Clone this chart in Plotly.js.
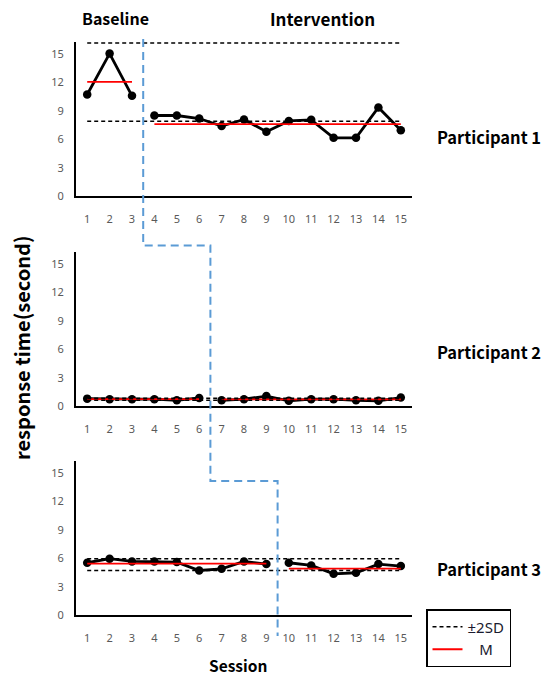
<!DOCTYPE html>
<html>
<head>
<meta charset="utf-8">
<script src="https://cdn.plot.ly/plotly-3.0.1.min.js"></script>
<style>html,body{margin:0;padding:0;background:#fff;}#chart{width:541px;height:679px;}</style>
</head>
<body>
<div id="chart"></div>
<script>
// ---- data ----
var sessions = [1, 2, 3, 4, 5, 6, 7, 8, 9, 10, 11, 12, 13, 14, 15];
var participants = ["Participant 1", "Participant 2", "Participant 3"];
var p1 = [10.74, 15.07, 10.6, 8.52, 8.52, 8.2, 7.4, 8.1, 6.8, 7.95, 8.06, 6.16, 6.16, 9.37, 6.97];
var p2 = [0.78, 0.72, 0.72, 0.72, 0.6, 0.85, 0.6, 0.72, 1.05, 0.55, 0.72, 0.72, 0.6, 0.55, 0.89];
var p3 = [5.53, 5.96, 5.67, 5.67, 5.6, 4.71, 4.89, 5.67, 5.39, 5.53, 5.25, 4.36, 4.47, 5.39, 5.18];
var baselineLength = [3, 6, 9];
var meanBase = [12.07, 0.72, 5.43];
var meanInt = [7.6, 0.7, 4.9];
var sdUpper = [16.2, 0.82, 5.96];
var sdLower = [7.9, 0.62, 4.71];
var yTicks = [0, 3, 6, 9, 12, 15];

var series = [p1, p2, p3];
var traces = [];
var tickFont = {family: "Noto Sans, Open Sans, sans-serif", size: 11, color: "#595959"};

series.forEach(function (vals, i) {
  var ax = i === 0 ? "" : String(i + 1);
  var xa = "x" + ax, ya = "y" + ax;
  var b = baselineLength[i];
  // data lines (one per phase)
  traces.push({x: sessions.slice(0, b), y: vals.slice(0, b), xaxis: xa, yaxis: ya, mode: "lines+markers",
    line: {color: "#000", width: 2.8}, marker: {color: "#000", size: 8.5}, showlegend: false, hoverinfo: "x+y"});
  traces.push({x: sessions.slice(b), y: vals.slice(b), xaxis: xa, yaxis: ya, mode: "lines+markers",
    line: {color: "#000", width: 2.8}, marker: {color: "#000", size: 8.5}, showlegend: false, hoverinfo: "x+y"});
  // mean lines
  traces.push({x: [sessions[0], sessions[b - 1]], y: [meanBase[i], meanBase[i]], xaxis: xa, yaxis: ya, mode: "lines",
    line: {color: "#FF0000", width: 1.8}, name: "\u00a0\u00a0\u00a0M", legendrank: 2, showlegend: i === 0});
  traces.push({x: [sessions[b], sessions[sessions.length - 1]], y: [meanInt[i], meanInt[i]], xaxis: xa, yaxis: ya, mode: "lines",
    line: {color: "#FF0000", width: 1.8}, showlegend: false});
  // ±2SD lines
  traces.push({x: [sessions[0], sessions[sessions.length - 1]], y: [sdUpper[i], sdUpper[i]], xaxis: xa, yaxis: ya, mode: "lines",
    line: {color: "#000", width: 1.5, dash: "4px,3px"}, name: "\u00b12SD", legendrank: 1, showlegend: i === 0});
  traces.push({x: [sessions[0], sessions[sessions.length - 1]], y: [sdLower[i], sdLower[i]], xaxis: xa, yaxis: ya, mode: "lines",
    line: {color: "#000", width: 1.5, dash: "4px,3px"}, showlegend: false});
});

var W = 541, H = 679;
function py(px) { return 1 - px / H; }
var xDomain = [76 / W, 412 / W];
var panelPx = [[42, 196], [252, 406], [461, 615]];

function xAxis(anchor) {
  return {domain: xDomain, range: [0.5, 15.5], anchor: anchor, tickvals: sessions, ticktext: sessions.map(String),
    showgrid: false, zeroline: false, showline: true, linecolor: "#000", linewidth: 2,
    ticks: "outside", ticklen: 12, tickcolor: "rgba(0,0,0,0)", tickfont: tickFont, fixedrange: true};
}
function yAxis(anchor, k) {
  return {domain: [py(panelPx[k][1]), py(panelPx[k][0])], range: [0, 16.3], anchor: anchor, tickvals: yTicks,
    showgrid: false, zeroline: false, showline: true, linecolor: "#000", linewidth: 2,
    ticks: "outside", ticklen: 8, tickcolor: "rgba(0,0,0,0)", tickfont: tickFont, fixedrange: true};
}

// phase change line (blue dashed step)
var ph = baselineLength.map(function (b) { return b + 0.5; });
var stepY = [py(39), py(245.5), py(481), py(636)];
var path = "M " + ph[0] + "," + stepY[0] + " L " + ph[0] + "," + stepY[1] +
  " L " + ph[1] + "," + stepY[1] + " L " + ph[1] + "," + stepY[2] +
  " L " + ph[2] + "," + stepY[2] + " L " + ph[2] + "," + stepY[3];

var boldFont = {family: "Noto Sans CJK KR, Noto Sans, sans-serif", size: 16.5, color: "#000"};
var annotations = [
  {text: "<b>Baseline</b>", x: 80 / W, y: py(18), xanchor: "left", font: Object.assign({}, boldFont, {size: 16})},
  {text: "<b>Intervention</b>", x: 268 / W, y: py(18), xanchor: "left", font: Object.assign({}, boldFont, {size: 17})},
  {text: "<b>" + participants[0] + "</b>", x: 435 / W, y: py(137), xanchor: "left"},
  {text: "<b>" + participants[1] + "</b>", x: 435 / W, y: py(352), xanchor: "left"},
  {text: "<b>" + participants[2] + "</b>", x: 435 / W, y: py(569), xanchor: "left"},
  {text: "<b>Session</b>", x: 238 / W, y: py(665), xanchor: "center", font: Object.assign({}, boldFont, {size: 15.5})},
  {text: "<b>response time(second)</b>", x: 22 / W, y: py(348), xanchor: "center", textangle: -90,
    font: {family: "Noto Sans CJK KR, Noto Sans, sans-serif", size: 20, color: "#000"}}
].map(function (a) {
  return Object.assign({xref: "paper", yref: "paper", yanchor: "middle", showarrow: false, font: boldFont}, a);
});

var layout = {
  width: W, height: H,
  margin: {l: 0, r: 0, t: 0, b: 0},
  paper_bgcolor: "#fff", plot_bgcolor: "rgba(0,0,0,0)",
  xaxis: xAxis("y"), yaxis: yAxis("x", 0),
  xaxis2: xAxis("y2"), yaxis2: yAxis("x2", 1),
  xaxis3: xAxis("y3"), yaxis3: yAxis("x3", 2),
  shapes: [{type: "path", xref: "x", yref: "paper", path: path,
    line: {color: "#5B9BD5", width: 2, dash: "8px,5px"}}],
  annotations: annotations,
  legend: {x: 426 / W, y: py(609), xanchor: "left", yanchor: "top", bgcolor: "#fff",
    bordercolor: "#000", borderwidth: 1.5, itemwidth: 30, traceorder: "normal",
    font: {family: "Noto Sans, sans-serif", size: 15, color: "#1a1a2e"}},
  showlegend: true
};

Plotly.newPlot("chart", traces, layout, {displayModeBar: false, staticPlot: true});
</script>
</body>
</html>
